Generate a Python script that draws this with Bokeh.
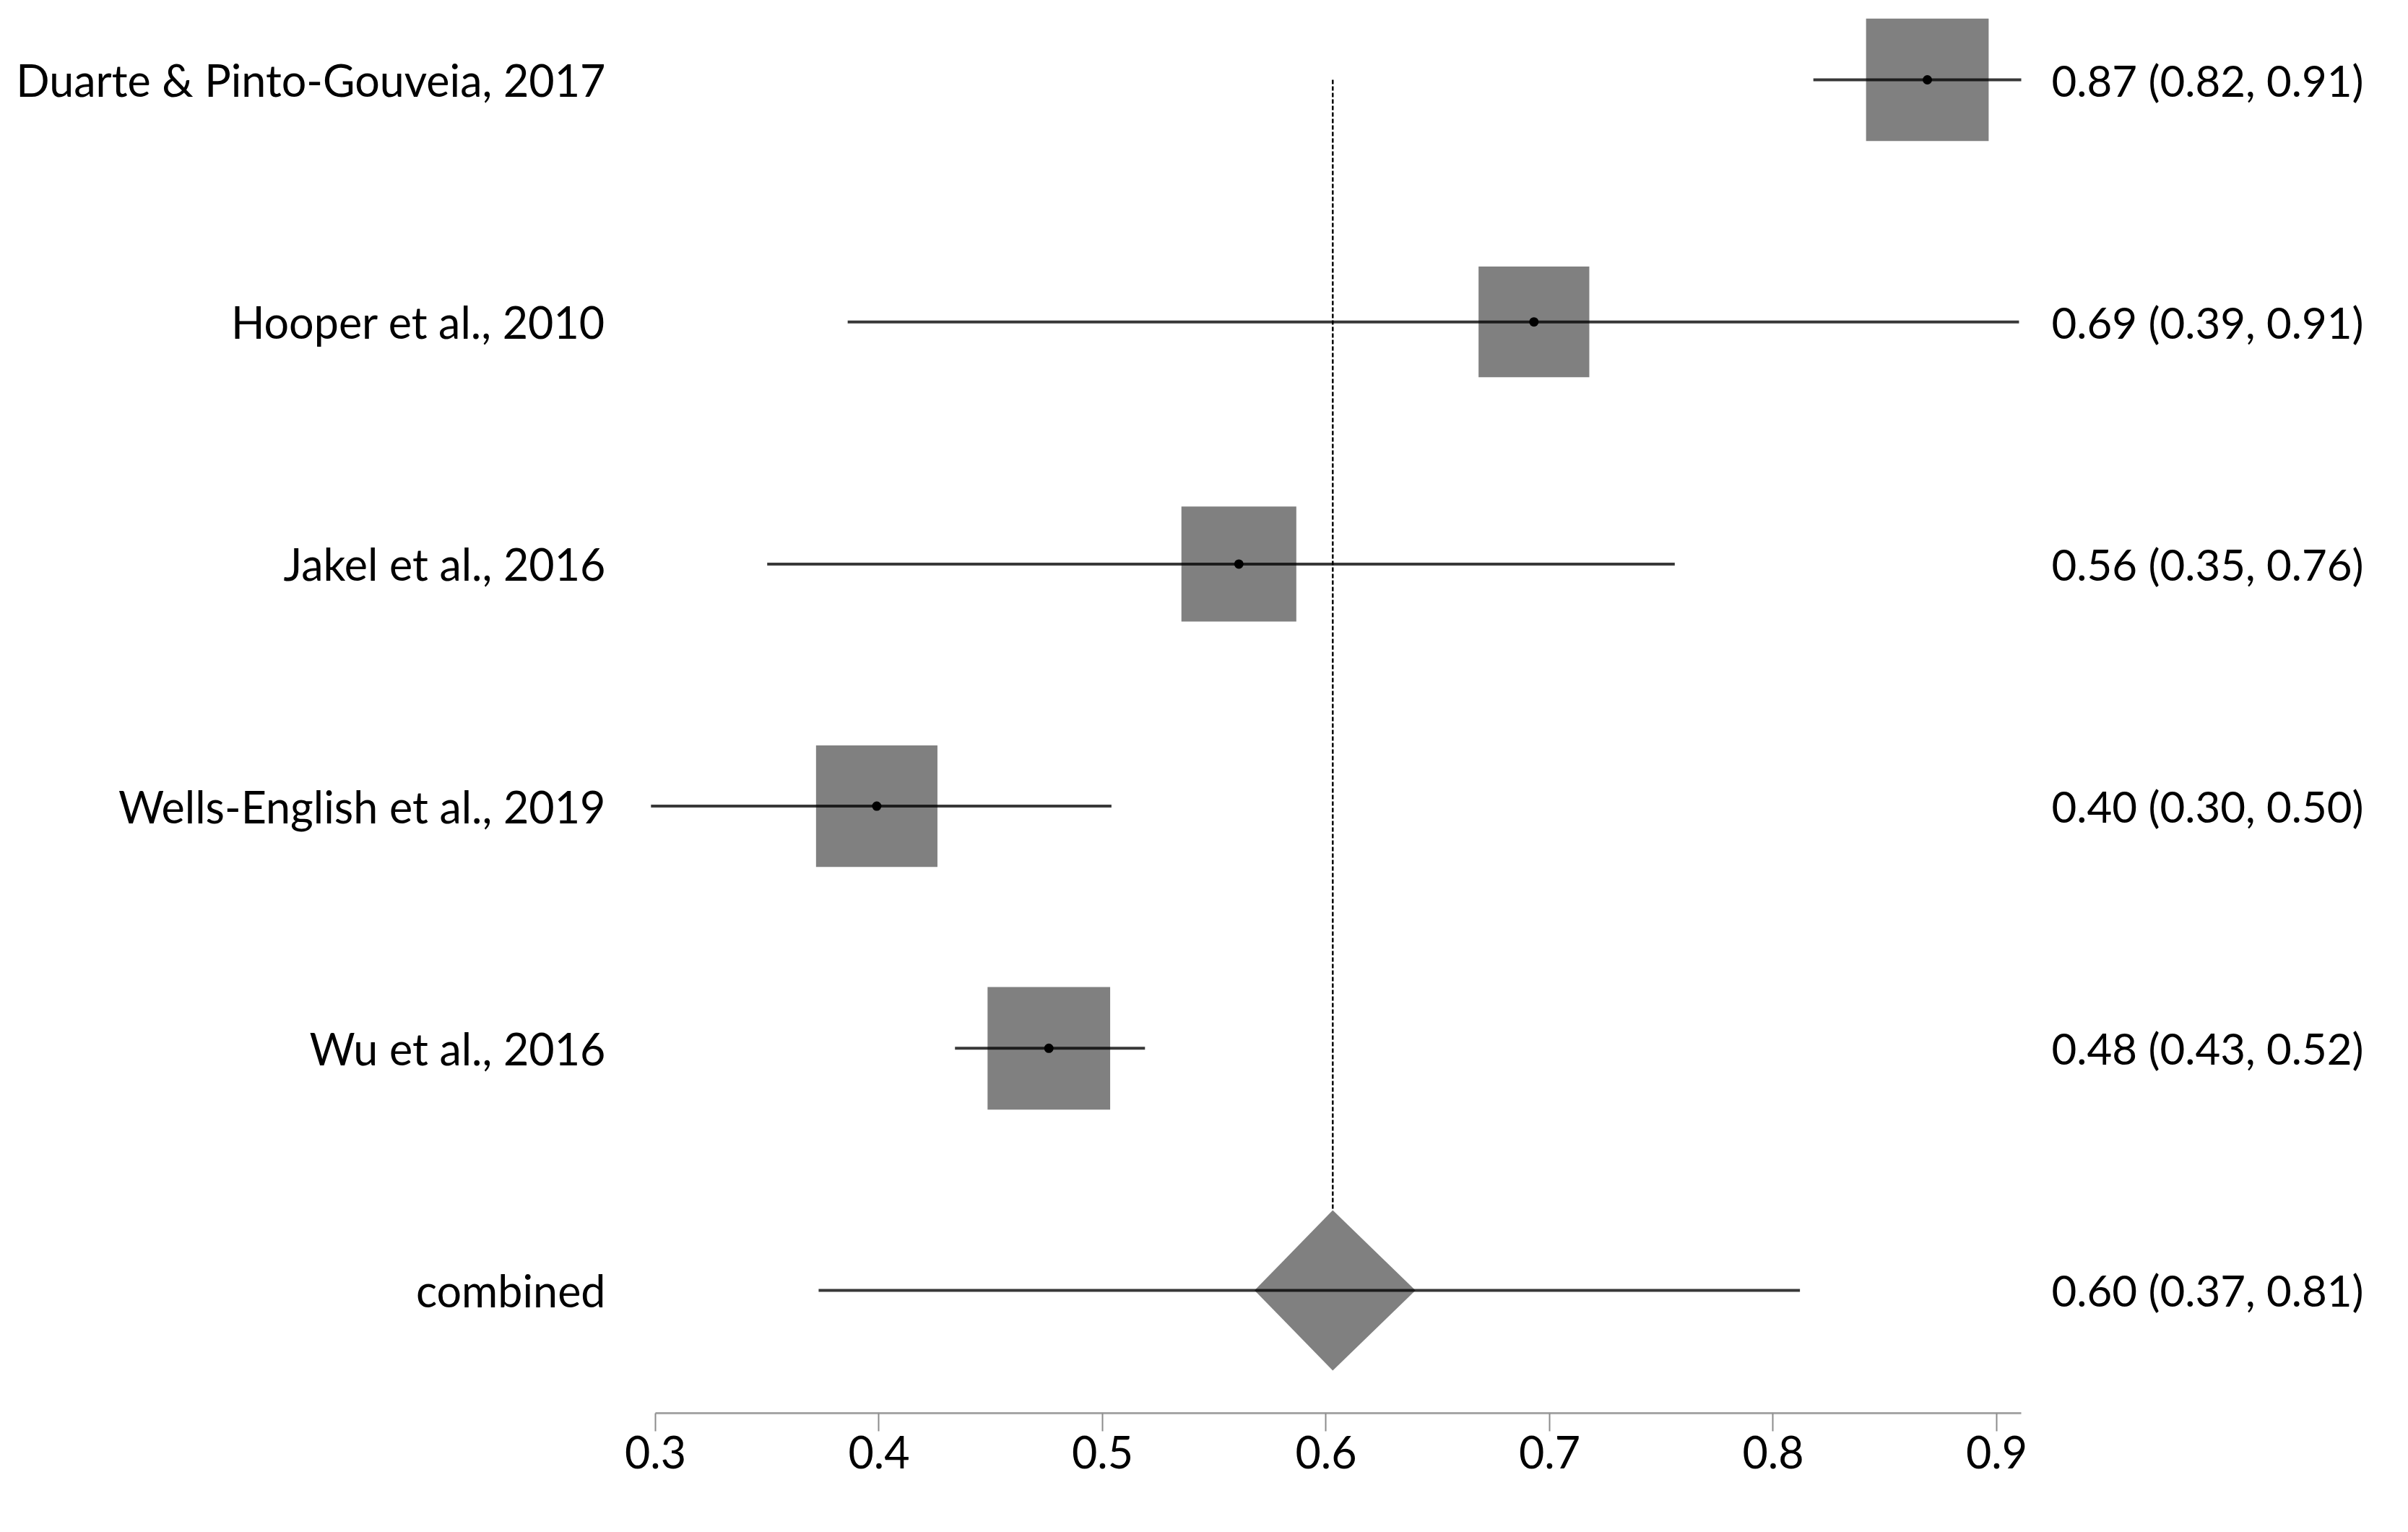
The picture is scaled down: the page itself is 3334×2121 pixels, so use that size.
from bokeh.plotting import figure
from bokeh.models import Range1d, LinearAxis, FixedTicker
from bokeh.embed import file_html
from bokeh.resources import INLINE

# ---- data ----
studies = ["Duarte & Pinto-Gouveia, 2017", "Hooper et al., 2010", "Jakel et al., 2016",
           "Wells-English et al., 2019", "Wu et al., 2016"]
est = [0.869, 0.693, 0.561, 0.399, 0.476]
lo = [0.818, 0.386, 0.350, 0.298, 0.434]
hi = [0.911, 0.910, 0.756, 0.504, 0.519]
weights = [20.7, 18.7, 19.4, 20.5, 20.7]   # relative study weights (%)

comb_label = "combined"
comb_est = 0.603
comb_lo = 0.373
comb_hi = 0.812
comb_ci_lo = 0.568    # diamond extent
comb_ci_hi = 0.640

x_ticks = [0.3, 0.4, 0.5, 0.6, 0.7, 0.8, 0.9]

# ---- layout ----
n = len(studies)
rows = [float(n + 1 - i) for i in range(n)]      # 6..2
comb_row = 1.0
all_rows = rows + [comb_row]
all_labels = studies + [comb_label]
right_labels = [f"{e:.2f} ({l:.2f}, {h:.2f})" for e, l, h in zip(est, lo, hi)] + \
               [f"{comb_est:.2f} ({comb_lo:.2f}, {comb_hi:.2f})"]

FONT = "Lato"

p = figure(width=3318, height=2105, output_backend="svg", toolbar_location=None,
           x_range=Range1d(0.29128, 0.91164), y_range=Range1d(0.4928, 6.3043),
           min_border_left=880, min_border_right=518, min_border_top=8, min_border_bottom=149,
           y_axis_location=None, x_axis_location=None)
p.grid.visible = False
p.outline_line_color = None
p.background_fill_color = "white"
p.border_fill_color = "white"

# x axis
xax = LinearAxis(ticker=FixedTicker(ticks=x_ticks), bounds=(0.3, 0.911))
xax.axis_line_color = "#a6a6a6"
xax.axis_line_width = 3
xax.major_tick_line_color = "#8c8c8c"
xax.major_tick_line_width = 2
xax.major_tick_out = 25
xax.major_tick_in = 0
xax.minor_tick_line_color = None
xax.major_label_standoff = 6
xax.major_label_text_font = FONT
xax.major_label_text_font_size = "61px"
xax.major_label_text_color = "black"
p.add_layout(xax, "below")

# left axis: study names
lax = LinearAxis(ticker=FixedTicker(ticks=all_rows),
                 major_label_overrides={r: t for r, t in zip(all_rows, all_labels)})
# right axis: estimates
rax = LinearAxis(ticker=FixedTicker(ticks=all_rows),
                 major_label_overrides={r: t for r, t in zip(all_rows, right_labels)})
for ax, so, fs in ((lax, 36, "61px"), (rax, 34, "60px")):
    ax.axis_line_color = None
    ax.major_tick_line_color = None
    ax.minor_tick_line_color = None
    ax.major_label_standoff = so
    ax.major_label_text_font = FONT
    ax.major_label_text_font_size = fs
    ax.major_label_text_color = "black"
    ax.major_label_orientation = "horizontal"
p.add_layout(lax, "left")
p.add_layout(rax, "right")

# diamond half height (y units)
dh = 0.331

# dashed reference line at combined estimate
p.segment(x0=[comb_est], y0=[rows[0]], x1=[comb_est], y1=[comb_row + dh],
          line_color="black", line_width=2.5, line_dash="6 3")

# squares
sizes = [w * 8.2 for w in weights]
p.scatter(x=est, y=rows, marker="square", size=sizes, fill_color="#808080",
          line_color=None)

# diamond
p.patch(x=[comb_ci_lo, comb_est, comb_ci_hi, comb_est],
        y=[comb_row, comb_row + dh, comb_row, comb_row - dh],
        fill_color="#808080", line_color=None)

# CI lines
p.segment(x0=lo + [comb_lo], y0=all_rows, x1=hi + [comb_hi], y1=all_rows,
          line_color="black", line_alpha=0.78, line_width=4)

# point estimates
p.scatter(x=est, y=rows, marker="circle", size=13, fill_color="black", line_color=None)

open("out.html", "w").write(file_html(p, INLINE))
